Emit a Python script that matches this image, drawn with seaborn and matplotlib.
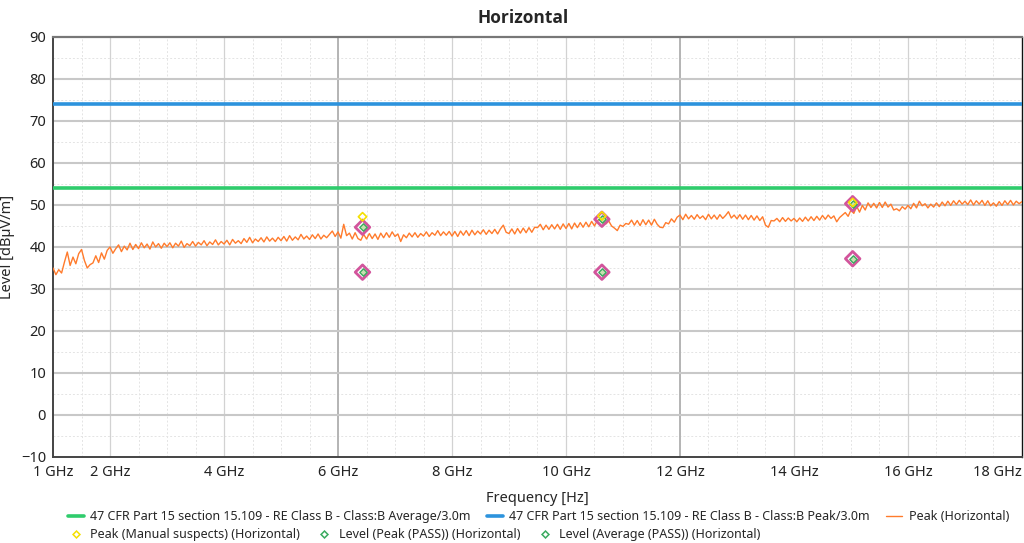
import numpy as np
import pandas as pd
import matplotlib
matplotlib.use("Agg")
import matplotlib.pyplot as plt
import seaborn as sns
from matplotlib.ticker import MultipleLocator, FixedLocator
from matplotlib.lines import Line2D

# peak trace, 1.00 .. 18.00 GHz in 0.05 GHz steps (one row per GHz)
peak_rows = [
    [35.0, 33.4, 34.6, 33.8, 36.4, 38.8, 35.6, 37.6, 36.0, 38.4, 39.4, 36.8, 35.0, 35.8, 36.2, 37.9, 36.3, 38.6, 37.1, 39.2],
    [40.0, 38.5, 39.6, 40.5, 38.9, 40.2, 39.3, 40.9, 39.4, 40.6, 39.6, 41.0, 39.8, 40.7, 39.5, 41.2, 40.0, 40.8, 39.7, 40.9],
    [40.1, 41.0, 39.8, 40.9, 40.2, 41.4, 39.9, 40.8, 40.3, 41.3, 40.2, 41.1, 40.5, 41.5, 40.3, 41.2, 40.6, 41.7, 40.5, 41.3],
    [40.7, 41.6, 40.5, 41.8, 40.9, 41.5, 40.8, 42.0, 41.1, 42.3, 41.0, 41.9, 41.3, 42.2, 41.2, 42.4, 41.4, 42.1, 41.3, 42.3],
    [41.5, 42.5, 41.4, 42.7, 41.6, 42.4, 41.7, 43.0, 41.9, 42.6, 41.8, 42.9, 42.0, 43.1, 41.9, 42.8, 42.2, 43.0, 43.8, 42.5],
    [43.6, 42.1, 45.4, 42.7, 43.3, 41.9, 43.4, 42.0, 41.6, 43.0, 41.9, 43.2, 42.0, 43.1, 41.8, 43.3, 42.2, 43.4, 42.3, 43.6],
    [42.5, 43.1, 41.3, 42.9, 42.2, 43.3, 42.4, 43.4, 42.3, 43.2, 42.6, 43.6, 42.5, 43.4, 42.8, 43.9, 42.7, 43.6, 42.8, 43.7],
    [42.6, 43.7, 42.5, 43.8, 42.8, 43.9, 42.7, 44.0, 42.9, 43.8, 43.1, 44.1, 43.0, 44.0, 43.2, 44.2, 43.1, 44.3, 45.2, 43.5],
    [43.2, 44.3, 43.1, 44.4, 43.3, 44.5, 43.4, 44.6, 43.5, 44.7, 44.6, 45.4, 44.1, 45.2, 44.2, 45.3, 44.3, 45.4, 44.2, 45.5],
    [44.4, 45.6, 44.3, 45.7, 44.6, 45.8, 44.7, 45.9, 44.8, 46.1, 45.0, 46.3, 46.6, 45.8, 45.5, 46.2, 45.0, 44.5, 43.9, 45.2],
    [44.9, 45.6, 45.4, 46.4, 45.2, 46.3, 45.1, 46.5, 45.3, 46.4, 45.2, 46.6, 45.4, 44.7, 44.6, 45.8, 45.5, 46.7, 45.9, 47.1],
    [47.6, 46.5, 47.8, 46.7, 47.5, 46.6, 47.7, 46.8, 47.4, 46.5, 47.8, 46.7, 47.6, 46.6, 47.7, 46.8, 47.5, 48.4, 46.9, 47.6],
    [46.7, 47.7, 46.6, 47.6, 46.5, 47.5, 46.4, 47.4, 46.3, 47.2, 45.2, 44.7, 46.3, 46.2, 46.8, 46.0, 47.0, 46.1, 46.9, 46.2],
    [46.8, 46.0, 46.9, 46.1, 47.1, 46.2, 47.2, 46.3, 47.3, 46.4, 47.5, 46.6, 47.6, 46.8, 47.4, 46.0, 47.0, 47.6, 48.2, 47.3],
    [48.8, 48.0, 49.7, 48.3, 49.9, 48.8, 50.5, 49.4, 50.4, 49.3, 50.6, 49.4, 50.7, 49.5, 50.2, 48.8, 49.1, 48.6, 49.6, 49.0],
    [49.9, 49.1, 50.4, 49.3, 50.9, 49.8, 50.3, 49.3, 50.2, 49.5, 50.5, 49.6, 50.7, 49.8, 50.9, 49.9, 51.0, 50.1, 51.1, 50.2],
    [50.9, 50.1, 51.2, 50.0, 51.0, 50.2, 51.1, 49.9, 51.0, 49.8, 50.5, 49.7, 50.8, 49.9, 51.0, 50.1, 51.1, 50.0, 50.9, 50.3],
    [50.8],
]
peak_level = [v for row in peak_rows for v in row]
peak_freq = np.linspace(1.0, 18.0, len(peak_level))

limit_freq = [1.0, 18.0]
limit_avg = [54.0, 54.0]
limit_peak = [74.0, 74.0]

suspect_freq = [6.43, 10.63, 15.03]
suspect_level = [47.2, 47.4, 50.6]
lvl_peak_freq = [6.43, 10.63, 15.03]
lvl_peak = [44.7, 46.6, 50.3]
lvl_avg_freq = [6.43, 10.63, 15.03]
lvl_avg = [34.0, 34.0, 37.2]

x_ticks = [1, 2, 4, 6, 8, 10, 12, 14, 16, 18]
x_labels = ["1 GHz", "2 GHz", "4 GHz", "6 GHz", "8 GHz", "10 GHz", "12 GHz", "14 GHz", "16 GHz", "18 GHz"]

sns.set_style("white")
plt.rcParams["font.family"] = ["Noto Sans", "DejaVu Sans"]

c_green = "#2fcc6c"
c_blue = "#2d93dd"
c_orange = "#ff7b2c"
c_pink = "#d2559c"
c_mark = "#3aaa5f"
c_yellow = "#f5e000"

fig = plt.figure(figsize=(10.24, 5.43), dpi=100)
ax = fig.add_axes([0.0518, 0.1584, 0.9462, 0.7735])

# grid
for g in np.arange(1.0, 18.01, 0.5):
    ax.axvline(g, color="#e4e4e4", lw=0.7, ls=(0, (2, 2)), zorder=0)
for g in np.arange(-10, 91, 5):
    ax.axhline(g, color="#e4e4e4", lw=0.7, ls=(0, (2, 2)), zorder=0)
for g in [2, 4, 8, 10, 14, 16]:
    ax.axvline(g, color="#d2d2d2", lw=0.9, zorder=0)
for g in [6, 12]:
    ax.axvline(g, color="#b4b4b4", lw=1.4, zorder=0)
for g in range(0, 90, 10):
    ax.axhline(g, color="#c8c8c8", lw=1.5, zorder=0)

sns.lineplot(x=limit_freq, y=limit_avg, ax=ax, color=c_green, lw=2.6, zorder=3)
sns.lineplot(x=limit_freq, y=limit_peak, ax=ax, color=c_blue, lw=2.6, zorder=3)
sns.lineplot(x=peak_freq, y=peak_level, ax=ax, color=c_orange, lw=1.0, zorder=4)

# highlighted final measurement points
hl_freq = lvl_peak_freq + lvl_avg_freq
hl_level = lvl_peak + lvl_avg
sns.scatterplot(x=hl_freq, y=hl_level, ax=ax, marker="D", s=55, facecolor="none",
                edgecolor=c_pink, linewidth=2.0, zorder=5)
sns.scatterplot(x=hl_freq, y=hl_level, ax=ax, marker="D", s=14, facecolor="#c8e0b0",
                edgecolor=c_mark, linewidth=1.0, zorder=6)
sns.scatterplot(x=suspect_freq, y=suspect_level, ax=ax, marker="D", s=18, facecolor="none",
                edgecolor=c_yellow, linewidth=1.2, zorder=6)

ax.set_xlim(1, 18)
ax.set_ylim(-10, 90)
ax.xaxis.set_major_locator(FixedLocator(x_ticks))
ax.set_xticklabels(x_labels)
ax.get_xticklabels()[-1].set_horizontalalignment("right")
ax.xaxis.set_minor_locator(MultipleLocator(0.5))
ax.yaxis.set_major_locator(MultipleLocator(10))
ax.yaxis.set_minor_locator(MultipleLocator(2))
ax.tick_params(axis="x", which="major", direction="in", length=0, labelsize=10.5, pad=6, colors="#222222")
ax.tick_params(axis="x", which="minor", direction="in", length=3, color="#444444")
ax.tick_params(axis="y", which="major", direction="out", length=4, labelsize=10.5, pad=1, colors="#222222")
ax.tick_params(axis="y", which="minor", direction="out", length=2.5, color="#444444")
ax.tick_params(axis="y", which="major", color="#444444")
for side in ["left", "bottom"]:
    ax.spines[side].set_color("#444444")
    ax.spines[side].set_linewidth(1.4)
ax.spines["top"].set_color("#777777")
ax.spines["top"].set_linewidth(1.6)
ax.spines["right"].set_color("#111111")
ax.spines["right"].set_linewidth(1.0)

ax.set_xlabel("Frequency [Hz]", fontsize=10.5, labelpad=8)
ax.set_ylabel("Level [dBµV/m]", fontsize=10.5, labelpad=4)
fig.text(0.511, 0.966, "Horizontal", ha="center", va="center", fontsize=12.5,
         fontweight="bold", family=["Open Sans", "DejaVu Sans"])

row1 = [
    Line2D([], [], color=c_green, lw=2.6, label="47 CFR Part 15 section 15.109 - RE Class B - Class:B Average/3.0m"),
    Line2D([], [], color=c_blue, lw=2.6, label="47 CFR Part 15 section 15.109 - RE Class B - Class:B Peak/3.0m"),
    Line2D([], [], color=c_orange, lw=1.0, label="Peak (Horizontal)"),
]
row2 = [
    Line2D([], [], ls="none", marker="D", ms=3.5, mfc="none", mec=c_yellow, mew=1.1, label="Peak (Manual suspects) (Horizontal)"),
    Line2D([], [], ls="none", marker="D", ms=3.5, mfc="none", mec=c_mark, mew=1.1, label="Level (Peak (PASS)) (Horizontal)"),
    Line2D([], [], ls="none", marker="D", ms=3.5, mfc="none", mec=c_mark, mew=1.1, label="Level (Average (PASS)) (Horizontal)"),
]
leg_kw = dict(frameon=False, fontsize=9, handlelength=1.3, handletextpad=0.5, columnspacing=1.3, borderpad=0, borderaxespad=0)
fig.legend(handles=row1, ncol=3, loc="center left", bbox_to_anchor=(0.066, 0.048), **leg_kw)
fig.legend(handles=row2, ncol=3, loc="center left", bbox_to_anchor=(0.066, 0.015), **leg_kw)

fig.savefig("out.png", dpi=100)
